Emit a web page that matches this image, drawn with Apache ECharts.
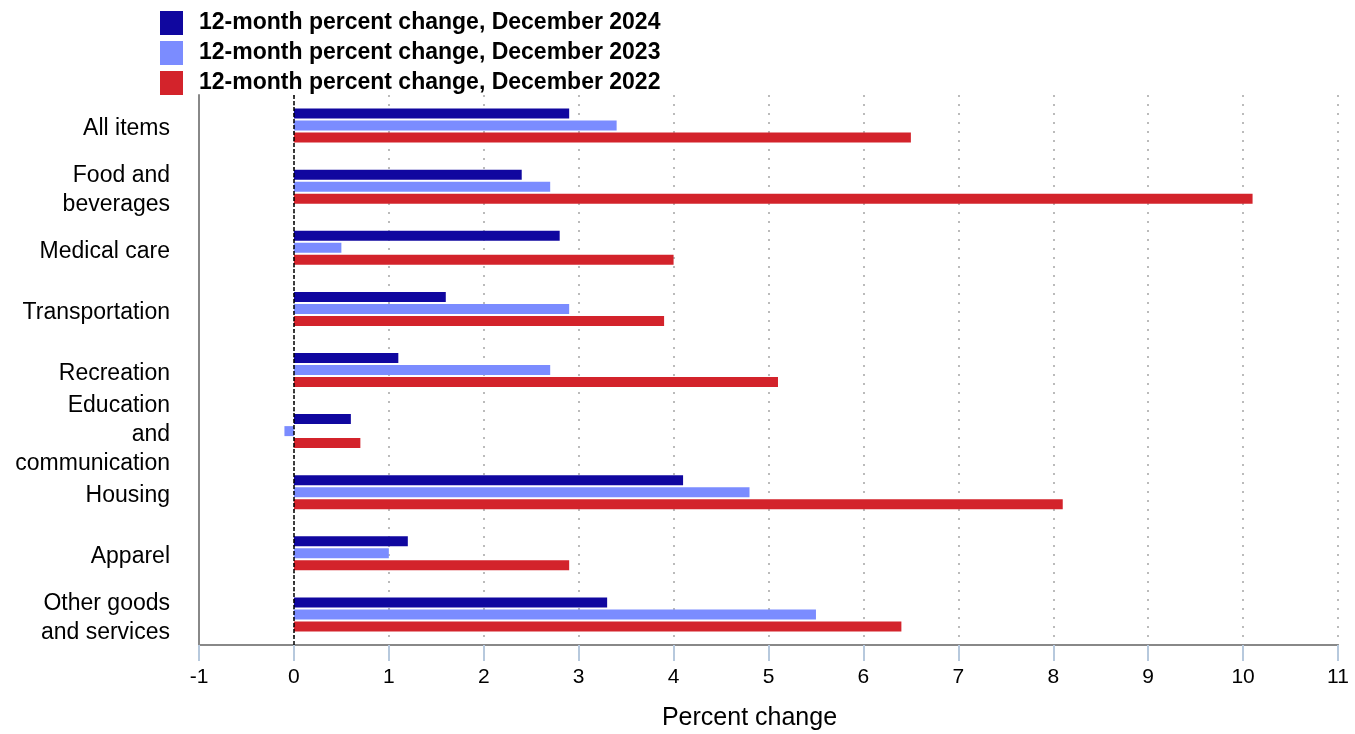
<!DOCTYPE html>
<html><head><meta charset="utf-8">
<script src="https://cdn.jsdelivr.net/npm/echarts@6/dist/echarts.min.js"></script>
<style>html,body{margin:0;padding:0;background:#fff}#c{width:1355px;height:734px}</style>
</head><body><div id="c"></div>
<script>
const categories = ["All items","Food and\nbeverages","Medical care","Transportation","Recreation","Education\nand\ncommunication","Housing","Apparel","Other goods\nand services"];
const seriesNames = ["12-month percent change, December 2024","12-month percent change, December 2023","12-month percent change, December 2022"];
const dec2024 = [2.9, 2.4, 2.8, 1.6, 1.1, 0.6, 4.1, 1.2, 3.3];
const dec2023 = [3.4, 2.7, 0.5, 2.9, 2.7, -0.1, 4.8, 1.0, 5.5];
const dec2022 = [6.5, 10.1, 4.0, 3.9, 5.1, 0.7, 8.1, 2.9, 6.4];
const xTicks = [-1,0,1,2,3,4,5,6,7,8,9,10,11];
const colors = ["#10079f", "#7b8cff", "#d3232b"];
const font = "Liberation Sans, Arial, sans-serif";

const chart = echarts.init(document.getElementById('c'));
const mk = (name, data, i) => ({
  name, type: 'bar', data, barWidth: 10, barGap: '20%',
  itemStyle: { color: colors[i] },
  markLine: i === 0 ? {
    silent: true, symbol: 'none', label: {show: false},
    lineStyle: { color: '#000', type: [4, 2], width: 1.5 },
    data: [{ xAxis: 0 }]
  } : undefined
});
chart.setOption({
  animation: false,
  textStyle: { fontFamily: font },
  legend: {
    orient: 'vertical', left: 155, top: 6, itemWidth: 23, itemHeight: 24, itemGap: 6,
    icon: 'rect', itemStyle: {borderWidth: 0},
    textStyle: { fontSize: 23, fontWeight: 'bold', color: '#000', fontFamily: font, padding: [3,0,0,11] },
    data: seriesNames
  },
  grid: { left: 199, right: 17, top: 95, bottom: 89, containLabel: false, outerBoundsMode: 'none' },
  xAxis: {
    type: 'value', min: xTicks[0], max: xTicks[xTicks.length-1], interval: 1,
    name: 'Percent change', nameLocation: 'middle', nameGap: 61,
    nameTextStyle: { fontSize: 25, color: '#000', fontFamily: font, padding: [0, 38, 0, 0] },
    axisLine: { show: true, onZero: false, lineStyle: { color: '#888', width: 2 } },
    axisTick: { show: true, length: 16, lineStyle: { color: '#b7c9dd', width: 2 } },
    axisLabel: { fontSize: 21, color: '#000', margin: 22, fontFamily: font },
    splitLine: { show: true, lineStyle: { color: '#bbb', type: [2, 7], width: 2 } }
  },
  yAxis: {
    type: 'category', data: categories, inverse: true,
    axisLine: { show: true, onZero: false, lineStyle: { color: '#888', width: 2 } },
    axisTick: { show: false },
    axisLabel: {
      fontSize: 23, color: '#000', margin: 29, lineHeight: 29, fontFamily: font, align: 'right',
      formatter: v => '{s| }\n' + v.split('\n').map(s => '{a|' + s + '}').join('\n'),
      rich: {
        s: { fontSize: 1, lineHeight: 7 },
        a: { fontSize: 23, lineHeight: 29, fontFamily: font, color: '#000' }
      }
    }
  },
  series: [mk(seriesNames[0], dec2024, 0), mk(seriesNames[1], dec2023, 1), mk(seriesNames[2], dec2022, 2)]
});
</script></body></html>
